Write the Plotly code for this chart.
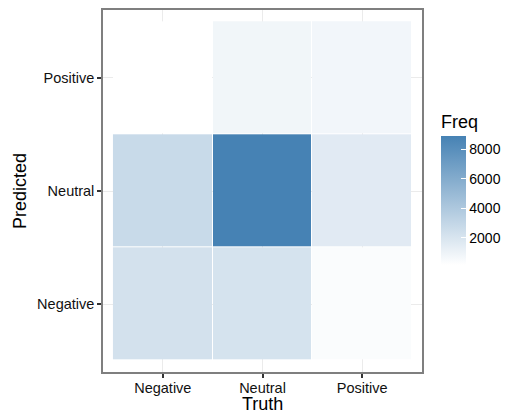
import plotly.graph_objects as go

truth = ["Negative", "Neutral", "Positive"]
predicted = ["Negative", "Neutral", "Positive"]
# rows = Predicted, columns = Truth
freq_neg = [2250, 2120, 390]
freq_neu = [2775, 8900, 1590]
freq_pos = [150, 800, 770]
z = [freq_neg, freq_neu, freq_pos]
cb_ticks = [2000, 4000, 6000, 8000]

font = "Liberation Sans, Arial, sans-serif"
# the page body adds an 8px offset, so the figure is drawn 8px smaller
OFF = 8
W, H = 510 - OFF, 413 - OFF
ml, mr, mt, mb = 103 - OFF, 88, 10 - OFF, 41
pw, ph = W - ml - mr, H - mt - mb

allv = freq_neg + freq_neu + freq_pos
zmin, zmax = min(allv), max(allv)

title_space = 26
bar_top_px = 137 - OFF - title_space
bar_len = 128 + title_space
bar_left_px = 441 - OFF

fig = go.Figure(go.Heatmap(
    x=truth, y=predicted, z=z,
    zmin=zmin, zmax=zmax,
    colorscale=[[0, "#ffffff"], [1, "#4682b4"]],
    xgap=1, ygap=1,
    colorbar=dict(
        title=dict(text="Freq", side="top", font=dict(size=18, family=font, color="#000")),
        tickvals=cb_ticks,
        ticks="inside", ticklen=5, tickcolor="white", tickwidth=1,
        tickfont=dict(size=14, family=font, color="#000"),
        thickness=25, thicknessmode="pixels",
        len=bar_len, lenmode="pixels",
        x=(bar_left_px - ml) / pw, xanchor="left", xpad=0,
        y=(H - mb - bar_top_px) / ph, yanchor="top", ypad=0,
        outlinewidth=0,
    ),
))

axis_common = dict(
    type="category",
    range=[-0.6, 2.6],
    automargin=False,
    showgrid=True, gridcolor="#ebebeb", gridwidth=1,
    zeroline=False,
    showline=True, mirror=True, linecolor="#7f7f7f", linewidth=1.5,
    ticks="outside", ticklen=4, tickwidth=1.5, tickcolor="#333",
    tickfont=dict(size=14.5, family=font, color="#111"),
)

fig.update_layout(
    width=W, height=H,
    margin=dict(l=ml, r=mr, t=mt, b=mb, autoexpand=False),
    paper_bgcolor="white", plot_bgcolor="white",
    xaxis=dict(axis_common, ticklabelstandoff=-2),
    yaxis=dict(axis_common, title=dict(text="Predicted", font=dict(size=18, family=font, color="#000"), standoff=6)),
    annotations=[dict(
        text="Truth", xref="paper", yref="paper", x=0.5, y=0,
        xanchor="center", yanchor="middle", yshift=-(404 - 372),
        showarrow=False, font=dict(size=18, family=font, color="#000"),
    )],
)

fig.write_html("out.html")
